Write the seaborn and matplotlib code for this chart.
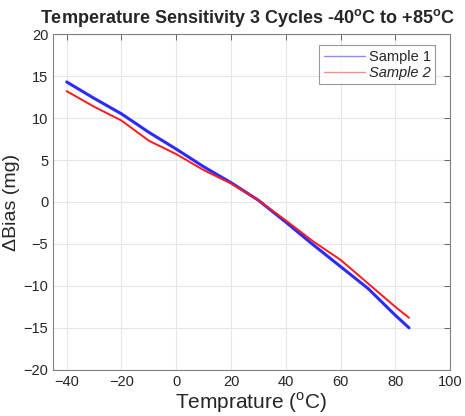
import matplotlib
matplotlib.use("Agg")
import matplotlib.pyplot as plt
import seaborn as sns
import pandas as pd

temps = [-40, -30, -20, -10, 0, 10, 20, 30, 40, 50, 60, 70, 80, 85]
sample1 = [14.3, 12.35, 10.5, 8.3, 6.3, 4.2, 2.3, 0.2, -2.4, -5.1, -7.7, -10.3, -13.5, -15.0]
sample2 = [13.2, 11.35, 9.7, 7.3, 5.7, 3.8, 2.2, 0.2, -2.2, -4.7, -6.9, -9.7, -12.5, -13.8]
series_names = ["Sample 1", "Sample 2"]
x_ticks = [-40, -20, 0, 20, 40, 60, 80, 100]
y_ticks = [-20, -15, -10, -5, 0, 5, 10, 15, 20]

df = pd.DataFrame({
    "T": temps + temps,
    "bias": sample1 + sample2,
    "series": [series_names[0]] * len(temps) + [series_names[1]] * len(temps),
})

sns.set_style("white")
plt.rcParams["font.family"] = ["Liberation Sans", "DejaVu Sans"]
plt.rcParams["mathtext.fontset"] = "custom"
plt.rcParams["mathtext.rm"] = "Liberation Sans"
plt.rcParams["mathtext.bf"] = "Liberation Sans:bold"

fig = plt.figure(figsize=(4.65, 4.16), dpi=100)
ax = fig.add_axes([0.114, 0.111, 0.854, 0.807])

palette = {"Sample 1": "#2b2bff", "Sample 2": "#ff1a1a"}
sns.lineplot(data=df, x="T", y="bias", hue="series", palette=palette, ax=ax,
             legend=False, sort=False)
lines = ax.get_lines()
lines[0].set_linewidth(2.2)
lines[1].set_linewidth(1.4)

ax.set_xlim(-45, 100)
ax.set_ylim(-20, 20)
ax.set_xticks(x_ticks)
ax.set_yticks(y_ticks)
ax.grid(True, color="#e6e6e6", linewidth=0.8)
ax.set_axisbelow(True)
ax.tick_params(direction="in", length=4, width=0.6, colors="#4d4d4d",
               labelcolor="#262626", labelsize=10.5, top=True, right=True)
for s in ax.spines.values():
    s.set_color("#808080")
    s.set_linewidth(0.8)

ax.set_xlabel("Temprature ($^{\\mathrm{o}}$C)", fontsize=15, labelpad=1)
ax.set_ylabel("\u0394Bias (mg)", fontsize=14, labelpad=2)
ax.set_title("Temperature Sensitivity 3 Cycles -40$^{\\mathbf{o}}$C to +85$^{\\mathbf{o}}$C",
             fontsize=13.0, fontweight="bold", pad=8, x=0.49)

from matplotlib.lines import Line2D
handles = [Line2D([], [], color="#8c8cff", lw=1.0), Line2D([], [], color="#ff8c8c", lw=1.0)]
leg = ax.legend(handles, series_names, loc="upper right", bbox_to_anchor=(0.97, 0.975),
                fontsize=10.5, frameon=True, fancybox=False, edgecolor="#808080",
                handlelength=2.8, handletextpad=0.3, borderpad=0.3, labelspacing=0.15,
                borderaxespad=0.2)
leg.get_frame().set_linewidth(0.8)
leg.get_texts()[1].set_style("italic")

fig.savefig("out.png", dpi=100)
